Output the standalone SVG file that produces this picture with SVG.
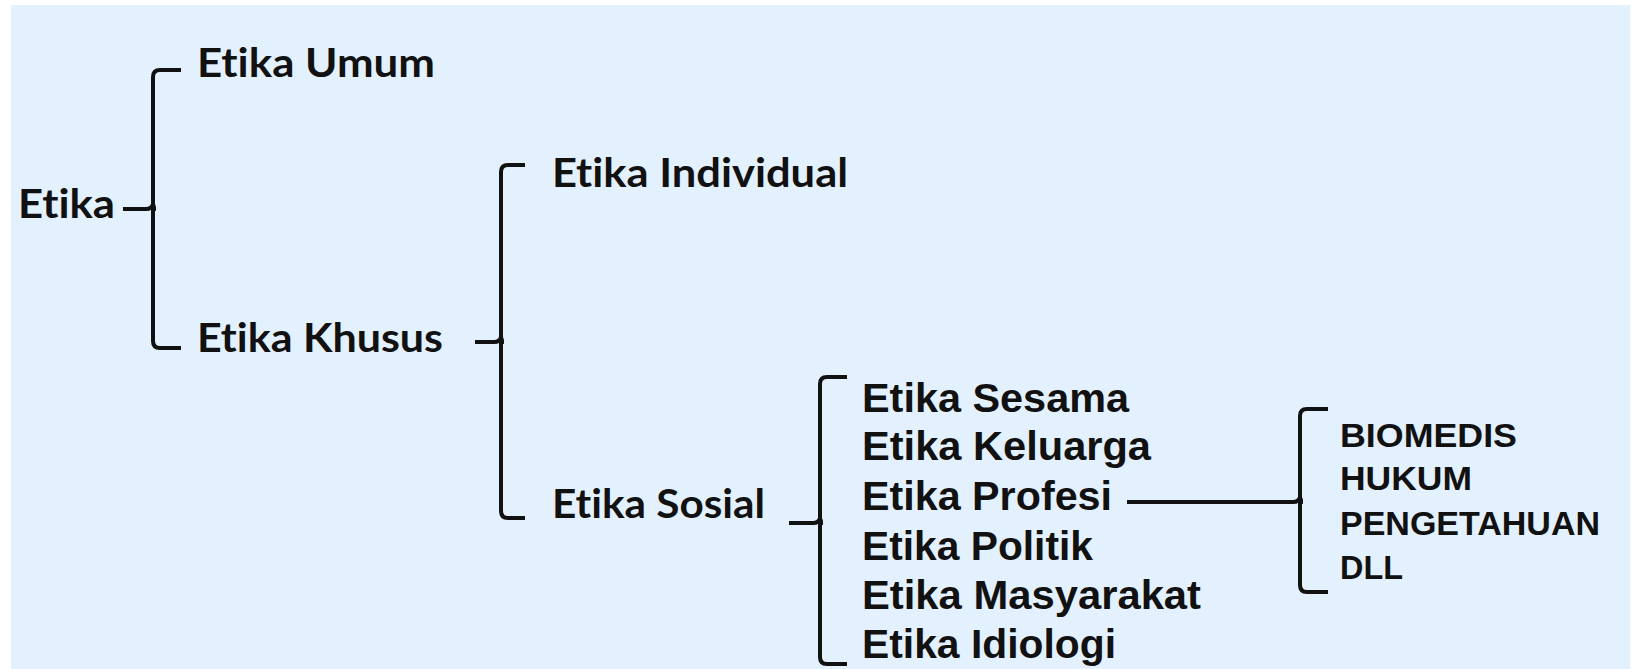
<svg xmlns="http://www.w3.org/2000/svg" width="1637" height="669" viewBox="0 0 1637 669">
<style>
.h{font-family:Lato,"Open Sans","DejaVu Sans",sans-serif;font-weight:bold;font-size:41px;fill:#111;font-variant-ligatures:none;font-feature-settings:"liga" 0}
.a{font-family:"Liberation Sans",Arial,sans-serif;font-weight:bold;font-size:41px;fill:#111}
.b{font-family:"Liberation Sans",Arial,sans-serif;font-weight:bold;font-size:34px;fill:#111}
.c{fill:none;stroke:#111;stroke-width:4;stroke-linecap:butt;stroke-linejoin:round}
</style>
<rect x="0" y="0" width="1637" height="669" fill="#ffffff"/>
<rect x="11" y="5" width="1619" height="664" fill="#E3F0FD"/>
<g id="connectors">
<path class="c" d="M181,70 H160 Q153,70 153,77 V341 Q153,348 160,348 H181"/>
<path class="c" d="M123,209 H146 Q152,209 153,204 Q154,209 156,209"/>
<path class="c" d="M525,165 H508 Q501,165 501,172 V511 Q501,518 508,518 H525"/>
<path class="c" d="M475,342 H494 Q500,342 501,337 Q502,342 504,342"/>
<path class="c" d="M847,377 H827 Q820,377 820,384 V657 Q820,664 827,664 H847"/>
<path class="c" d="M789,523 H813 Q819,523 820,518 Q821,523 823,523"/>
<path class="c" d="M1328,409 H1307 Q1300,409 1300,416 V585 Q1300,592 1307,592 H1328"/>
<path class="c" d="M1127,502 H1293 Q1299,502 1300,497 Q1301,502 1303,502"/>
</g>
<g id="n-etika"><text class="h" x="18" y="218" textLength="97" lengthAdjust="spacingAndGlyphs">Etika</text></g>
<g id="n-umum"><text class="h" x="197" y="77" textLength="238" lengthAdjust="spacingAndGlyphs">Etika Umum</text></g>
<g id="n-khusus"><text class="h" x="197" y="352" textLength="246" lengthAdjust="spacingAndGlyphs">Etika Khusus</text></g>
<g id="n-individual"><text class="h" x="552" y="187" textLength="296" lengthAdjust="spacingAndGlyphs">Etika Individual</text></g>
<g id="n-sosial"><text class="h" x="552" y="518" textLength="213" lengthAdjust="spacingAndGlyphs">Etika Sosial</text></g>
<g id="n-sesama"><text class="a" x="862" y="412" textLength="267" lengthAdjust="spacingAndGlyphs">Etika Sesama</text></g>
<g id="n-keluarga"><text class="a" x="862" y="460" textLength="289" lengthAdjust="spacingAndGlyphs">Etika Keluarga</text></g>
<g id="n-profesi"><text class="a" x="862" y="510" textLength="250" lengthAdjust="spacingAndGlyphs">Etika Profesi</text></g>
<g id="n-politik"><text class="a" x="862" y="560" textLength="231" lengthAdjust="spacingAndGlyphs">Etika Politik</text></g>
<g id="n-masyarakat"><text class="a" x="862" y="609" textLength="339" lengthAdjust="spacingAndGlyphs">Etika Masyarakat</text></g>
<g id="n-idiologi"><text class="a" x="862" y="658" textLength="254" lengthAdjust="spacingAndGlyphs">Etika Idiologi</text></g>
<g id="n-biomedis"><text class="b" x="1340" y="447" textLength="177" lengthAdjust="spacingAndGlyphs">BIOMEDIS</text></g>
<g id="n-hukum"><text class="b" x="1340" y="490" textLength="132" lengthAdjust="spacingAndGlyphs">HUKUM</text></g>
<g id="n-pengetahuan"><text class="b" x="1340" y="535" textLength="260" lengthAdjust="spacingAndGlyphs">PENGETAHUAN</text></g>
<g id="n-dll"><text class="b" x="1340" y="579" textLength="63" lengthAdjust="spacingAndGlyphs">DLL</text></g>
</svg>
